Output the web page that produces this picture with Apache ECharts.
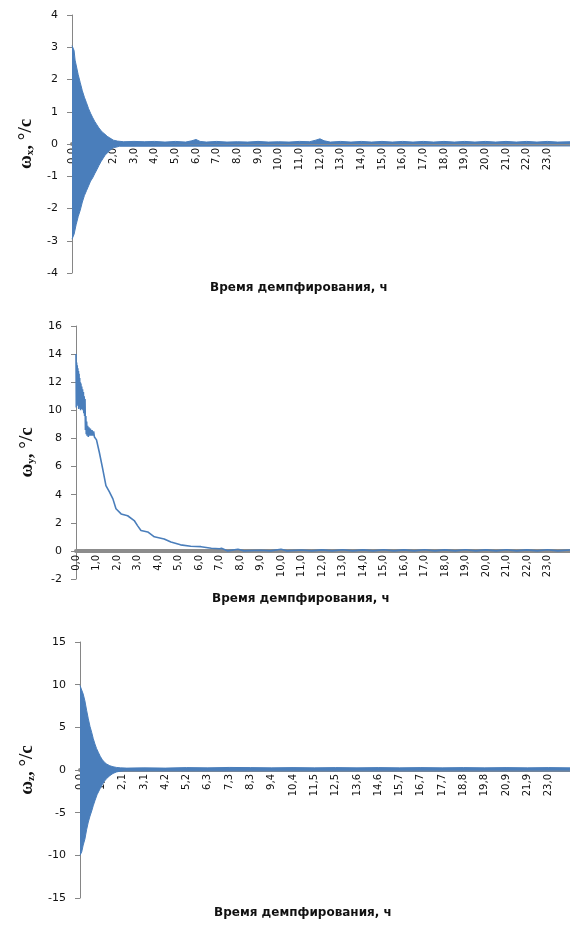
<!DOCTYPE html>
<html><head><meta charset="utf-8">
<script src="https://cdn.jsdelivr.net/npm/echarts@6/dist/echarts.min.js"></script>
<style>html,body{margin:0;padding:0;background:#fff}#c{width:570px;height:925px}</style>
</head><body><div id="c"></div>
<script>
// Tick labels of the time axes (hours)
const hourLabels = ['0,0','1,0','2,0','3,0','4,0','5,0','6,0','7,0','8,0','9,0','10,0','11,0','12,0','13,0','14,0','15,0','16,0','17,0','18,0','19,0','20,0','21,0','22,0','23,0'];
const zLabels = ['0,0','1,0','2,1','3,1','4,2','5,2','6,3','7,3','8,3','9,4','10,4','11,5','12,5','13,6','14,6','15,7','16,7','17,7','18,8','19,8','20,9','21,9','23,0'];
const xTitle = 'Время демпфирования, ч';

// ω_x : envelope of the damped oscillation [time, value]
const wxUpper = [[0,3.05],[0.04,3.0],[0.1,2.9],[0.15,2.6],[0.2,2.45],[0.3,2.15],[0.4,1.9],[0.5,1.65],[0.6,1.45],[0.7,1.28],[0.8,1.1],[0.9,0.95],[1.0,0.82],[1.1,0.7],[1.2,0.6],[1.3,0.5],[1.4,0.42],[1.5,0.35],[1.6,0.3],[1.7,0.24],[1.8,0.2],[1.9,0.16],[2.0,0.12],[2.2,0.09],[2.5,0.07],[3.0,0.08],[3.5,0.07],[4.0,0.08],[4.5,0.06],[5.0,0.08],[5.5,0.06],[5.8,0.1],[6.0,0.14],[6.2,0.08],[6.5,0.06],[7.0,0.08],[7.5,0.06],[8.0,0.07],[8.5,0.06],[9.0,0.08],[9.5,0.06],[10.0,0.07],[10.5,0.06],[11.0,0.08],[11.5,0.07],[11.8,0.12],[12.0,0.16],[12.2,0.1],[12.5,0.06],[13.0,0.08],[13.5,0.06],[14.0,0.08],[14.5,0.06],[15.0,0.08],[15.5,0.06],[16.0,0.08],[16.5,0.06],[17.0,0.08],[17.5,0.06],[18.0,0.08],[18.5,0.06],[19.0,0.08],[19.5,0.06],[20.0,0.08],[20.5,0.06],[21.0,0.08],[21.5,0.06],[22.0,0.08],[22.5,0.06],[23.0,0.08],[23.5,0.06],[24.1,0.07]];
const wxLower = [[0,-2.95],[0.04,-2.9],[0.1,-2.8],[0.2,-2.5],[0.3,-2.25],[0.4,-2.05],[0.5,-1.8],[0.6,-1.6],[0.7,-1.45],[0.8,-1.3],[0.9,-1.15],[1.0,-1.05],[1.1,-0.92],[1.2,-0.8],[1.3,-0.67],[1.4,-0.55],[1.5,-0.45],[1.6,-0.35],[1.7,-0.28],[1.8,-0.22],[1.9,-0.16],[2.0,-0.12],[2.3,-0.07],[24.1,-0.06]];

// ω_y : single decaying trace [time, value]
const wyLine = [[0,14.0],[0.015,10.2],[0.03,13.4],[0.045,10.4],[0.06,13.2],[0.075,10.6],[0.09,13.0],[0.105,10.3],[0.12,12.8],[0.135,10.1],[0.15,12.6],[0.165,10.5],[0.18,12.3],[0.195,10.2],[0.21,12.0],[0.225,10.0],[0.24,11.9],[0.26,10.4],[0.28,11.7],[0.3,10.1],[0.32,11.5],[0.34,10.0],[0.36,11.3],[0.38,9.8],[0.4,11.0],[0.42,9.6],[0.44,10.8],[0.46,8.6],[0.48,9.6],[0.5,8.3],[0.52,9.2],[0.54,8.2],[0.57,8.9],[0.6,8.1],[0.63,8.8],[0.66,8.2],[0.7,8.7],[0.74,8.2],[0.78,8.6],[0.82,8.2],[0.86,8.5],[0.9,8.1],[0.95,8.2],[1.0,7.9],[1.14,7.0],[1.3,5.85],[1.46,4.65],[1.63,4.2],[1.8,3.7],[1.95,3.0],[2.2,2.63],[2.52,2.5],[2.84,2.16],[3.0,1.8],[3.17,1.45],[3.5,1.35],[3.82,1.0],[4.3,0.85],[4.63,0.63],[5.1,0.43],[5.6,0.33],[6.1,0.3],[6.6,0.19],[7.0,0.15],[7.1,0.18],[7.4,0.0],[7.9,0.12],[8.2,0.0],[9.0,0.05],[9.5,0.0],[10.0,0.12],[10.3,0.0],[11.0,0.06],[11.5,0.0],[12.0,0.07],[12.5,0.0],[13.0,0.08],[13.5,0.0],[14.0,0.07],[14.5,0.0],[15.0,0.08],[15.5,0.0],[16.0,0.07],[16.5,0.0],[17.0,0.08],[17.5,0.0],[18.0,0.07],[18.5,0.0],[19.0,0.08],[19.5,0.0],[20.0,0.07],[20.5,0.0],[21.0,0.08],[21.5,0.0],[22.0,0.07],[22.5,0.0],[23.0,0.08],[23.5,0.0],[24.1,0.06]];

// ω_z : envelope of the damped oscillation [label index, value]
const wzUpper = [[0,9.9],[0.08,9.7],[0.15,8.9],[0.23,8.1],[0.31,7.0],[0.39,6.0],[0.47,5.1],[0.55,4.4],[0.62,3.7],[0.7,3.05],[0.78,2.5],[0.86,2.07],[0.95,1.6],[1.05,1.2],[1.15,0.9],[1.25,0.7],[1.4,0.5],[1.55,0.38],[1.72,0.3],[1.9,0.25],[2.2,0.22],[3.0,0.25],[4.0,0.22],[5.0,0.28],[6.0,0.25],[7.0,0.3],[8.0,0.28],[9.0,0.25],[10.0,0.28],[11.0,0.25],[12.0,0.28],[13.0,0.25],[14.0,0.28],[15.0,0.25],[16.0,0.28],[17.0,0.25],[18.0,0.28],[19.0,0.25],[20.0,0.28],[21.0,0.25],[22.0,0.28],[23.0,0.25]];
const wzLower = [[0,-10.0],[0.08,-9.6],[0.15,-8.8],[0.23,-8.1],[0.31,-7.0],[0.39,-6.1],[0.47,-5.4],[0.55,-4.8],[0.62,-4.2],[0.7,-3.6],[0.8,-2.9],[0.94,-2.2],[1.05,-1.7],[1.15,-1.3],[1.25,-1.0],[1.4,-0.66],[1.55,-0.4],[1.72,-0.22],[1.9,-0.14],[2.1,-0.1],[23.0,-0.1]];

const BLUE = '#4a7ebb';
const GRAY = '#8c8c8c';
const FONT = 'DejaVu Sans';

const grids = [
  { left: 72, top: 15, width: 498, height: 258, yMin: -4, yMax: 4, yInt: 1, xMax: 24.1, titleY: 282 },
  { left: 76, top: 326, width: 494, height: 253, yMin: -2, yMax: 16, yInt: 2, xMax: 24.1, titleY: 593 },
  { left: 80, top: 642, width: 490, height: 256, yMin: -15, yMax: 15, yInt: 5, xMax: 23, titleY: 907 }
];

function xAxis(gi, labels) {
  const g = grids[gi];
  const zeroOffset = g.height * (0 - g.yMin) / (g.yMax - g.yMin); // distance from grid bottom to y=0
  return {
    type: 'value', gridIndex: gi, min: 0, max: g.xMax, interval: 1, position: 'bottom',
    offset: -zeroOffset,
    axisLine: { onZero: false, lineStyle: { color: GRAY, width: 4 } },
    axisTick: { show: false }, splitLine: { show: false },
    axisLabel: { rotate: 90, margin: 4, fontSize: 10, fontFamily: FONT, color: '#111',
      showMaxLabel: false,
      formatter: v => { const i = Math.round(v); return (Math.abs(v - i) < 1e-6 && labels[i]) ? labels[i] : ''; } }
  };
}
function yAxis(gi, sub, nameGap) {
  const g = grids[gi];
  return {
    type: 'value', gridIndex: gi, min: g.yMin, max: g.yMax, interval: g.yInt,
    axisLine: { show: true, onZero: false, lineStyle: { color: '#868686', width: 1 } },
    axisTick: { show: true, length: 5, lineStyle: { color: '#868686' } },
    splitLine: { show: false },
    axisLabel: { margin: 14, fontSize: 11, fontFamily: FONT, color: '#111' },
    name: '{w|ω}{s|' + sub + '}{w|, °/c}', nameLocation: 'middle', nameRotate: 90, nameGap: nameGap,
    nameTextStyle: { rich: {
      w: { fontSize: 19, fontWeight: 'bold', fontFamily: 'Liberation Serif', color: '#111', lineHeight: 20 },
      s: { fontSize: 11, fontWeight: 'bold', fontFamily: 'Liberation Serif', color: '#111', lineHeight: 11, verticalAlign: 'bottom' }
    } }
  };
}
function area(data, xi) {
  return { type: 'line', xAxisIndex: xi, yAxisIndex: xi, data: data, symbol: 'none', smooth: false,
    lineStyle: { color: BLUE, width: 1 }, areaStyle: { color: BLUE, opacity: 1, origin: 'auto' }, z: 3 };
}

const chart = echarts.init(document.getElementById('c'), null, { renderer: 'canvas' });
chart.setOption({
  animation: false,
  backgroundColor: '#fff',
  grid: grids.map(g => ({ left: g.left, top: g.top, width: g.width, height: g.height })),
  xAxis: [ xAxis(0, hourLabels), xAxis(1, hourLabels), xAxis(2, zLabels) ],
  yAxis: [ yAxis(0, 'x', 32), yAxis(1, 'y', 36), yAxis(2, 'z', 40) ],
  graphic: grids.map(g => ({
    type: 'text', left: g.left + g.width / 2 - 111, top: g.titleY,
    style: { text: xTitle, fontSize: 12, fontWeight: 'bold', fontFamily: FONT, fill: '#111' }
  })),
  series: [
    area(wxUpper, 0), area(wxLower, 0),
    { type: 'line', xAxisIndex: 1, yAxisIndex: 1, data: wyLine, symbol: 'none',
      lineStyle: { color: BLUE, width: 1.6 }, z: 3 },
    area(wzUpper, 2), area(wzLower, 2)
  ]
});
</script></body></html>
